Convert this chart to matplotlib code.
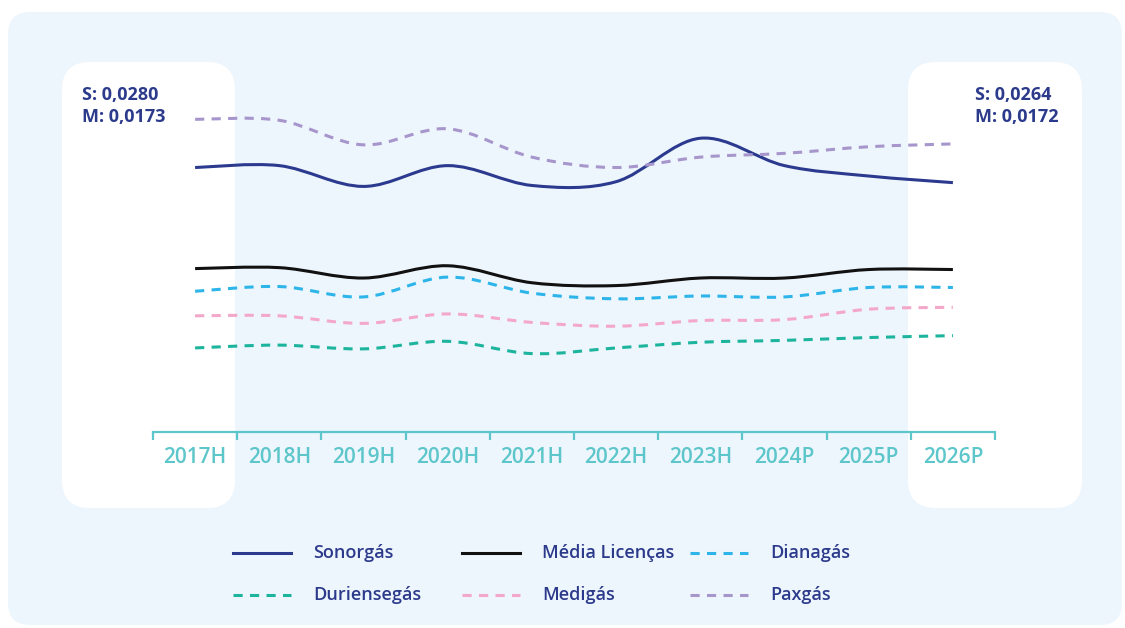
import numpy as np
import matplotlib
matplotlib.use("Agg")
import matplotlib.pyplot as plt
from matplotlib.path import Path
from matplotlib.patches import PathPatch, FancyBboxPatch
from matplotlib.lines import Line2D
from matplotlib.transforms import IdentityTransform

# data
years = ["2017H", "2018H", "2019H", "2020H", "2021H", "2022H", "2023H", "2024P", "2025P", "2026P"]
sonorgas = [0.0280, 0.0282, 0.0260, 0.0282, 0.0261, 0.0265, 0.0311, 0.0282, 0.0271, 0.0264]
media = [0.0173, 0.0174, 0.0163, 0.0176, 0.0158, 0.0155, 0.0163, 0.0163, 0.0172, 0.0172]
dianagas = [0.0149, 0.0154, 0.0143, 0.0164, 0.0147, 0.0141, 0.0144, 0.0143, 0.0153, 0.0153]
duriensegas = [0.0089, 0.0092, 0.0088, 0.0096, 0.0083, 0.0089, 0.0095, 0.0097, 0.0100, 0.0102]
medigas = [0.0123, 0.0123, 0.0115, 0.0125, 0.0116, 0.0112, 0.0118, 0.0119, 0.0130, 0.0132]
paxgas = [0.0331, 0.0330, 0.0304, 0.0321, 0.0291, 0.0280, 0.0291, 0.0295, 0.0302, 0.0305]

NAVY = "#2C3A8C"
TEAL = "#5CC6CA"
PANEL = "#EEF6FD"
FONT = ["Open Sans", "DejaVu Sans"]

series = [
    ("Sonorgás", sonorgas, "#2B3A8F", "-"),
    ("Média Licenças", media, "#111111", "-"),
    ("Dianagás", dianagas, "#2DB5EA", "--"),
    ("Duriensegás", duriensegas, "#1DB49E", "--"),
    ("Medigás", medigas, "#F3A8CA", "--"),
    ("Paxgás", paxgas, "#A696CC", "--"),
]
DASH = (0, (3.0, 2.4))


def smooth_path(x, y, k=1 / 6):
    """Catmull-Rom through the points, as cubic Bezier segments."""
    pts = np.column_stack([x, y])
    padded = np.vstack([pts[0], pts, pts[-1]])
    verts = [pts[0]]
    codes = [Path.MOVETO]
    for i in range(len(pts) - 1):
        p0, p1, p2, p3 = padded[i], padded[i + 1], padded[i + 2], padded[i + 3]
        verts += [p1 + (p2 - p0) * k, p2 - (p3 - p1) * k, p2]
        codes += [Path.CURVE4] * 3
    return Path(verts, codes)


W, H = 1125, 628
fig = plt.figure(figsize=(W / 100, H / 100), dpi=100, facecolor="white")


def px_box(x0, y0, x1, y1, color, r):
    # rounded box given in image pixels (top-left origin)
    box = FancyBboxPatch((x0, H - y1), x1 - x0, y1 - y0,
                         boxstyle=f"round,pad=0,rounding_size={r}",
                         transform=IdentityTransform(), facecolor=color,
                         edgecolor="none", zorder=-10)
    fig.patches.append(box)

px_box(8, 12, 1122, 625, PANEL, 22)
px_box(62, 62, 235, 508, "white", 28)
px_box(908, 62, 1082, 508, "white", 28)

ax = fig.add_axes([153 / W, (H - 432) / H, 842 / W, (432 - 101.4) / H])
ax.set_facecolor("none")

x = np.arange(len(years))
for name, vals, color, ls in series:
    patch = PathPatch(smooth_path(x, vals), fill=False, edgecolor=color,
                      linewidth=2.2, linestyle="-" if ls == "-" else DASH,
                      capstyle="butt")
    ax.add_patch(patch)

ax.set_xlim(-0.5, len(years) - 0.5)
ax.set_ylim(0, 0.035)

for side in ["top", "left", "right"]:
    ax.spines[side].set_visible(False)
ax.spines["bottom"].set_color(TEAL)
ax.spines["bottom"].set_linewidth(1.6)
ax.set_yticks([])

ax.set_xticks(np.arange(len(years) + 1) - 0.5)
ax.set_xticklabels([])
ax.tick_params(axis="x", which="major", length=6, width=1.6, color=TEAL, direction="out")
ax.set_xticks(x, minor=True)
ax.set_xticklabels(years, minor=True, family=FONT, fontweight="semibold")
ax.tick_params(axis="x", which="minor", length=0, pad=11, labelsize=15, labelcolor=TEAL)


def fmt(v):
    return f"{v:.4f}".replace(".", ",")

# first / last value annotations
for xpos, idx in [(82, 0), (975, -1)]:
    fig.text(xpos / W, 1 - 95 / H, f"S: {fmt(sonorgas[idx])}", color=NAVY, fontsize=13,
             family=FONT, fontweight="bold", ha="left", va="center")
    fig.text(xpos / W, 1 - 117 / H, f"M: {fmt(media[idx])}", color=NAVY, fontsize=13,
             family=FONT, fontweight="bold", ha="left", va="center")

# legend, two rows of three
col_x = [233, 462, 690]
row_y = [553, 595]
for i, (name, vals, color, ls) in enumerate(series):
    cx = col_x[i % 3]
    cy = row_y[i // 3]
    fig.add_artist(Line2D([cx / W, (cx + 58) / W], [1 - cy / H, 1 - cy / H],
                          transform=fig.transFigure, color=color, linewidth=2.2,
                          linestyle="-" if ls == "-" else DASH))
    fig.text((cx + 80) / W, 1 - cy / H, name, color=NAVY, fontsize=13,
             family=FONT, fontweight="semibold", ha="left", va="center")

fig.savefig("out.png", dpi=100, facecolor="white")
